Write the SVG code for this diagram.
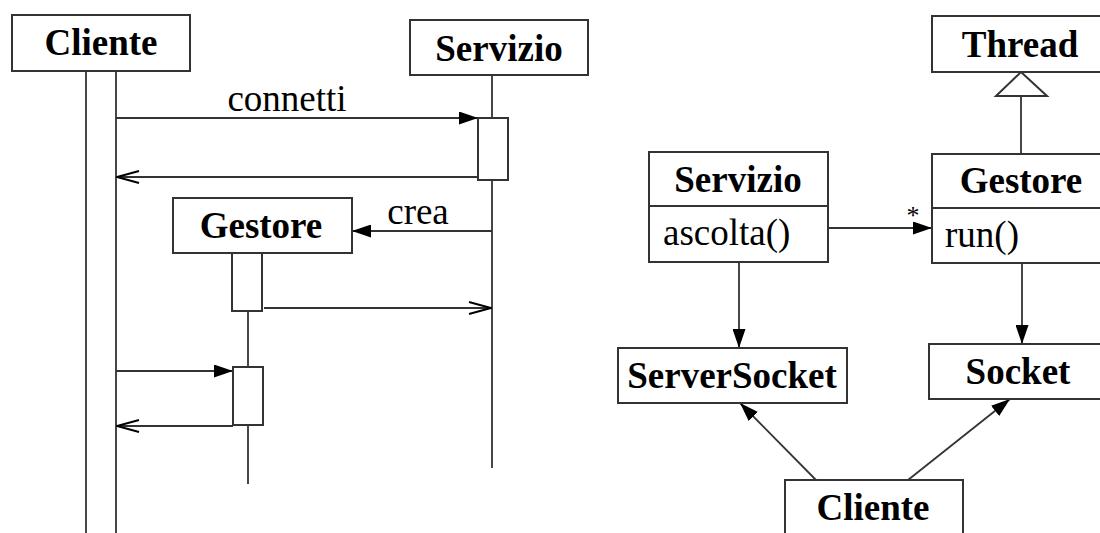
<svg xmlns="http://www.w3.org/2000/svg" width="1100" height="533" viewBox="0 0 1100 533">
<style>
.box{fill:#fff;stroke:#333;stroke-width:2}
.ln{fill:none;stroke:#333;stroke-width:1.8}
.nm{font-weight:bold;font-size:37px;fill:#000;text-anchor:middle}
.tx{font-size:37px;fill:#000}
</style>
<defs>
<marker id="fa" viewBox="0 0 19 13" refX="19" refY="6.5" markerWidth="19" markerHeight="13" markerUnits="userSpaceOnUse" orient="auto"><path d="M0,0 L19,6.5 L0,13 z" fill="#000"/></marker>
<marker id="oa" viewBox="0 0 24 14" refX="23" refY="7" markerWidth="24" markerHeight="14" markerUnits="userSpaceOnUse" orient="auto"><path d="M1,1 L23,7 L1,13" fill="none" stroke="#000" stroke-width="2"/></marker>
</defs>
<rect width="1100" height="533" fill="#fff"/>

<g id="connectors">
<line class="ln" x1="86" y1="71" x2="86" y2="533"/>
<line class="ln" x1="116" y1="71" x2="116" y2="533"/>
<line class="ln" x1="492" y1="75" x2="492" y2="468"/>
<line class="ln" x1="248" y1="253" x2="248" y2="484"/>
<line class="ln" x1="116" y1="118" x2="478" y2="118" marker-end="url(#fa)"/>
<line class="ln" x1="478" y1="177" x2="117" y2="177" marker-end="url(#oa)"/>
<line class="ln" x1="492" y1="231" x2="352" y2="231" marker-end="url(#fa)"/>
<line class="ln" x1="264" y1="308" x2="491" y2="308" marker-end="url(#oa)"/>
<line class="ln" x1="116" y1="371" x2="233" y2="371" marker-end="url(#fa)"/>
<line class="ln" x1="233" y1="426" x2="117" y2="426" marker-end="url(#oa)"/>
<line class="ln" x1="828" y1="228" x2="932" y2="228" marker-end="url(#fa)"/>
<line class="ln" x1="739" y1="262" x2="739" y2="348" marker-end="url(#fa)"/>
<line class="ln" x1="1022" y1="263" x2="1022" y2="344" marker-end="url(#fa)"/>
<line class="ln" x1="816" y1="480" x2="740" y2="403" marker-end="url(#fa)"/>
<line class="ln" x1="908" y1="480" x2="1010" y2="399" marker-end="url(#fa)"/>
<line class="ln" x1="1021" y1="154" x2="1021" y2="96"/>
<path class="box" d="M1021,72 L1047,96 L996,96 z" stroke-width="1.8"/>
<g font-family="'Liberation Serif', 'Times New Roman', serif">
<text class="tx" x="287" y="111" text-anchor="middle">connetti</text>
<text class="tx" x="418" y="224" text-anchor="middle">crea</text>
<text x="913" y="224" text-anchor="middle" font-size="26">*</text>
</g>
</g>

<g font-family="'Liberation Serif', 'Times New Roman', serif">
<g id="seq-cliente">
<rect class="box" x="12" y="15" width="178" height="56"/>
<text class="nm" x="101" y="55">Cliente</text>
</g>
<g id="seq-servizio">
<rect class="box" x="410" y="20" width="178" height="55"/>
<text class="nm" x="499" y="61">Servizio</text>
<rect class="box" x="478" y="118" width="30" height="62"/>
</g>
<g id="seq-gestore">
<rect class="box" x="173" y="198" width="179" height="55"/>
<text class="nm" x="261" y="238">Gestore</text>
<rect class="box" x="232" y="253" width="30" height="58"/>
<rect class="box" x="233" y="367" width="30" height="58"/>
</g>

<g id="cls-thread">
<rect class="box" x="932" y="16" width="180" height="56"/>
<text class="nm" x="1020" y="57">Thread</text>
</g>
<g id="cls-servizio">
<rect class="box" x="649" y="152" width="179" height="110"/>
<line class="ln" x1="649" y1="206" x2="828" y2="206" stroke-width="2"/>
<text class="nm" x="738" y="192">Servizio</text>
<text class="tx" x="663" y="245">ascolta()</text>
</g>
<g id="cls-gestore">
<rect class="box" x="932" y="154" width="180" height="109"/>
<line class="ln" x1="932" y1="208" x2="1112" y2="208" stroke-width="2"/>
<text class="nm" x="1021" y="193">Gestore</text>
<text class="tx" x="945" y="247">run()</text>
</g>
<g id="cls-serversocket">
<rect class="box" x="618" y="348" width="229" height="55"/>
<text class="nm" x="732" y="388">ServerSocket</text>
</g>
<g id="cls-socket">
<rect class="box" x="929" y="344" width="183" height="55"/>
<text class="nm" x="1018" y="384">Socket</text>
</g>
<g id="cls-cliente">
<rect class="box" x="785" y="480" width="178" height="70"/>
<text class="nm" x="873" y="520">Cliente</text>
</g>
</g>
</svg>
